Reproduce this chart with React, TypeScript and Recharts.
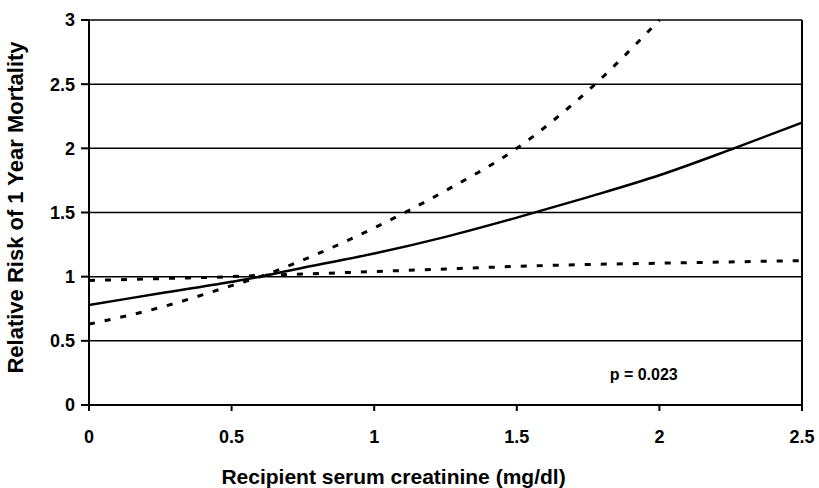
import { LineChart, Line, XAxis, YAxis, CartesianGrid, ReferenceLine, ReferenceDot, Label } from "recharts";

// serum creatinine (mg/dl)
const creatinine = [0, 0.25, 0.5, 0.6, 0.75, 1, 1.25, 1.5, 1.75, 2, 2.25, 2.5];

// relative risk estimate + confidence bounds
const riskEstimate = [0.78, 0.87, 0.96, 1.0, 1.07, 1.18, 1.31, 1.46, 1.62, 1.79, 1.99, 2.2];
const upperBound = [0.63, 0.76, 0.93, 1.0, 1.13, 1.38, 1.67, 2.0, 2.45, 3.0, null, null];
const lowerBound = [0.97, 0.985, 1.0, 1.01, 1.02, 1.04, 1.06, 1.08, 1.095, 1.105, 1.115, 1.125];

const xTicks = [0, 0.5, 1, 1.5, 2, 2.5];
const yTicks = [0, 0.5, 1, 1.5, 2, 2.5, 3];

const data = creatinine.map((x, i) => ({
  x,
  est: riskEstimate[i],
  upper: upperBound[i],
  lower: lowerBound[i],
}));

const FONT = "'Liberation Sans', Arial, sans-serif";

export default function App() {
  return (
    <div style={{ position: "absolute", left: 0, top: 0, background: "#fff" }}>
      <LineChart width={819} height={488} data={data} margin={{ top: 20, right: 17, left: 0, bottom: 0 }}>
        <CartesianGrid horizontal vertical={false} stroke="#000" strokeWidth={1.5} strokeOpacity={1} />
        <XAxis
          type="number"
          dataKey="x"
          domain={[0, 2.5]}
          ticks={xTicks}
          height={83}
          stroke="#000"
          strokeWidth={2}
          tickSize={6}
          tickMargin={19}
          tick={{ fill: "#000", fontSize: 18, fontWeight: 700, fontFamily: FONT }}
        >
          <Label
            value="Recipient serum creatinine (mg/dl)"
            position="insideBottom"
            offset={4}
            dx={-52}
            style={{ fill: "#000", fontSize: 21, fontWeight: 700, fontFamily: FONT }}
          />
        </XAxis>
        <YAxis
          type="number"
          domain={[0, 3]}
          ticks={yTicks}
          width={89}
          stroke="#000"
          strokeWidth={2}
          tickSize={8}
          tickMargin={6}
          tick={{ fill: "#000", fontSize: 18, fontWeight: 700, fontFamily: FONT }}
        >
          <Label
            value="Relative Risk of 1 Year Mortality"
            angle={-90}
            position="insideLeft"
            offset={15}
            dy={-5}
            style={{ textAnchor: "middle", fill: "#000", fontSize: 22, fontWeight: 700, fontFamily: FONT }}
          />
        </YAxis>
        <ReferenceLine x={2.5} stroke="#000" strokeWidth={2} />
        <ReferenceDot x={1.945} y={0.24} r={0} stroke="none" fill="none">
          <Label value="p = 0.023" position="center" style={{ fill: "#000", fontSize: 16, fontWeight: 700, fontFamily: FONT }} />
        </ReferenceDot>
        <Line type="monotone" dataKey="upper" stroke="#000" strokeWidth={3} strokeDasharray="6 10" dot={false} isAnimationActive={false} connectNulls={false} />
        <Line type="monotone" dataKey="lower" stroke="#000" strokeWidth={3} strokeDasharray="6 10" dot={false} isAnimationActive={false} />
        <Line type="monotone" dataKey="est" stroke="#000" strokeWidth={2.5} dot={false} isAnimationActive={false} />
      </LineChart>
    </div>
  );
}
